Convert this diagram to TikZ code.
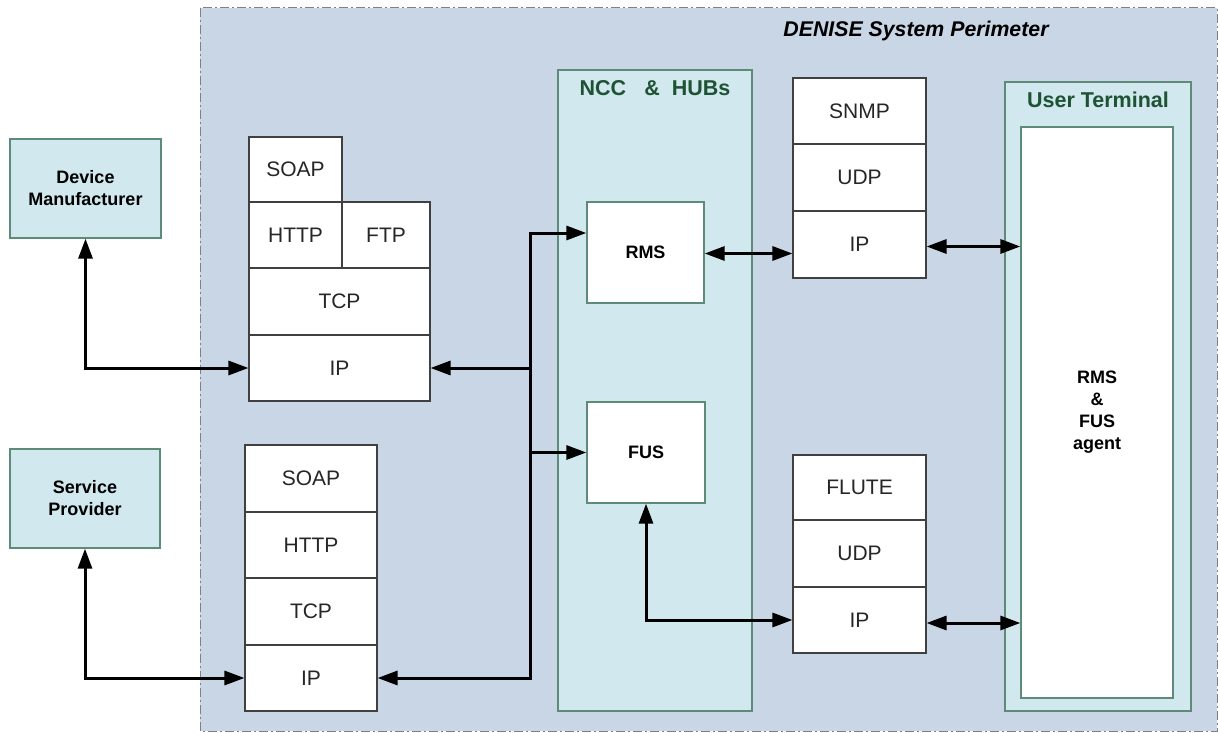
\documentclass[tikz,border=0pt]{standalone}
\usepackage{fontspec}
\setmainfont{Liberation Sans}
\usetikzlibrary{arrows.meta,calc}
\definecolor{perifill}{HTML}{C9D6E5}
\definecolor{grnfill}{HTML}{D1E9EE}
\definecolor{grnline}{HTML}{5E8A78}
\definecolor{titlegrn}{HTML}{1F5235}
\definecolor{protoline}{HTML}{404040}
\tikzset{
  proto/.style={draw=protoline, line width=1.1pt, fill=white, inner sep=0pt,
    font=\fontsize{21}{24}\selectfont, text=black!85},
  grnbox/.style={draw=grnline, line width=1.3pt, fill=grnfill, inner sep=0pt},
  svcbox/.style={draw=grnline, line width=1.3pt, fill=white, inner sep=0pt,
    font=\bfseries\fontsize{18}{22}\selectfont},
  extbox/.style={grnbox, align=center, font=\bfseries\fontsize{18}{22}\selectfont},
  grntitle/.style={font=\bfseries\fontsize{21.5}{24}\selectfont, text=titlegrn},
  conn/.style={line width=3pt, {Triangle[length=20pt,width=14pt]}-{Triangle[length=20pt,width=14pt]}},
  oneway/.style={line width=3pt, -{Triangle[length=20pt,width=14pt]}},
}
\begin{document}
\begin{tikzpicture}[x=1pt,y=-1pt]
\useasboundingbox (0,0) rectangle (1218,733);
\fill[white] (0,0) rectangle (1218,733);
% perimeter
\draw[fill=perifill, draw=gray, line width=1pt, dash pattern=on 9pt off 3pt on 2pt off 3pt]
  (200,8) rectangle (1217,731);
\node[font=\bfseries\itshape\fontsize{21.3}{24}\selectfont] (perim) at (916,31) {DENISE System Perimeter};

% external boxes
\node[extbox, minimum width=151pt, minimum height=99pt] (dm) at (85.5,188.5) {Device\\Manufacturer};
\node[extbox, minimum width=150pt, minimum height=99pt] (sp) at (85,498.5) {Service\\Provider};

% stack 1
\node[proto, minimum width=93pt, minimum height=65pt] (soap1) at (295.5,169.5) {SOAP};
\node[proto, minimum width=93pt, minimum height=66pt] (http1) at (295.5,235) {HTTP};
\node[proto, minimum width=88pt, minimum height=66pt] (ftp1) at (386,235) {FTP};
\node[proto, minimum width=181pt, minimum height=67pt] (tcp1) at (339.5,301.5) {TCP};
\node[proto, minimum width=181pt, minimum height=66pt] (ip1) at (339.5,368) {IP};

% stack 2
\node[proto, minimum width=132pt, minimum height=67pt] (soap2) at (311,478.5) {SOAP};
\node[proto, minimum width=132pt, minimum height=66pt] (http2) at (311,545) {HTTP};
\node[proto, minimum width=132pt, minimum height=67pt] (tcp2) at (311,611.5) {TCP};
\node[proto, minimum width=132pt, minimum height=66pt] (ip2) at (311,678) {IP};

% NCC & HUBs
\node[grnbox, minimum width=194pt, minimum height=641pt] (ncc) at (655,390.5) {};
\node[grntitle] (ncct) at (655,88) {NCC\hspace{18pt}\&\hspace{12pt}HUBs};
\node[svcbox, minimum width=117pt, minimum height=101pt] (rms) at (645.5,252.5) {RMS};
\node[svcbox, minimum width=118pt, minimum height=101pt] (fus) at (646,452.5) {FUS};

% SNMP stack
\node[proto, minimum width=133pt, minimum height=66pt] (snmp) at (859.5,111) {SNMP};
\node[proto, minimum width=133pt, minimum height=67pt] (udpa) at (859.5,177.5) {UDP};
\node[proto, minimum width=133pt, minimum height=67pt] (ipa) at (859.5,244.5) {IP};

% FLUTE stack
\node[proto, minimum width=133pt, minimum height=65pt] (flute) at (859.5,487.5) {FLUTE};
\node[proto, minimum width=133pt, minimum height=67pt] (udpb) at (859.5,553.5) {UDP};
\node[proto, minimum width=133pt, minimum height=66pt] (ipb) at (859.5,620) {IP};

% User terminal
\node[grnbox, minimum width=186pt, minimum height=629pt] (ut) at (1098,396.5) {};
\node[grntitle] (utt) at (1098,100) {User Terminal};
\node[svcbox, minimum width=152pt, minimum height=571pt, align=center,
  font=\bfseries\fontsize{18}{22}\selectfont] (uti) at (1097,412.5) {RMS\\\&\\FUS\\agent};

% connectors
\coordinate (bustop) at (530,233);
\coordinate (busbot) at (530,678);
\draw[conn] (dm.south) |- (ip1.west);
\draw[conn] (sp.south) |- (ip2.west);
\draw[conn] (ip2.east) -- (busbot) -- (bustop) -- (rms.west |- bustop);
\draw[oneway] (busbot |- ip1.east) -- (ip1.east);
\draw[oneway] (busbot |- fus.west) -- (fus.west);
\draw[conn] ($(rms.east)+(0,1)$) -- ($(rms.east -| ipa.west)+(0,1)$);
\draw[conn] ($(ipa.east)+(0,2)$) -- ($(ipa.east -| uti.west)+(0,2)$);
\draw[conn] (fus.south) |- (ipb.west);
\draw[conn] ($(ipb.east)+(0,3)$) -- ($(ipb.east -| uti.west)+(0,3)$);
\end{tikzpicture}
\end{document}
